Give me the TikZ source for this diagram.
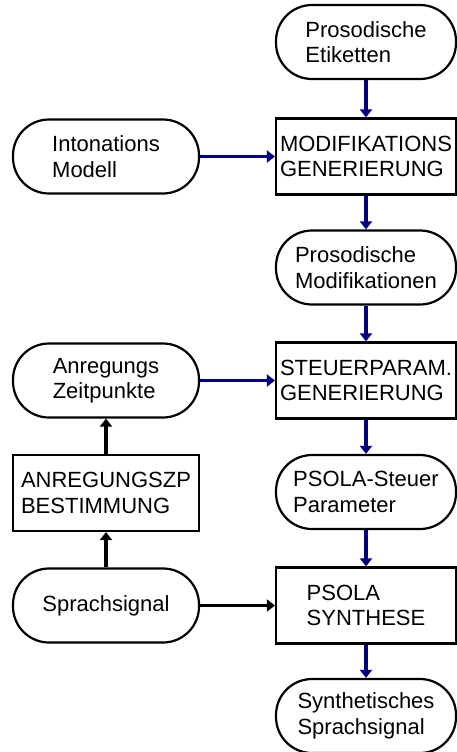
\documentclass[tikz,border=0pt]{standalone}
\usepackage{fontspec}
\setmainfont{Liberation Sans}
\usetikzlibrary{arrows.meta}

\definecolor{flowblue}{RGB}{0,0,128}

\begin{document}
\begin{tikzpicture}[x=1pt,y=1pt,>={Triangle[length=8pt,width=12pt]}]

% ----------------------------
% Styles
% ----------------------------
\tikzset{
	base/.style={draw=black,line width=2.2pt,fill=white,inner sep=0pt,align=left,
		font=\fontsize{22}{25.5}\selectfont},
	pill/.style={base,rounded corners=36pt,minimum height=74pt},
	procbox/.style={base,minimum height=76pt},
	rcol/.style={minimum width=180pt},
	lcol/.style={minimum width=186pt},
	bluearr/.style={->,line width=3.5pt,draw=flowblue,fill=flowblue},
	blackarr/.style={->,line width=3.5pt,draw=black}
}

\useasboundingbox (0,0) rectangle (457,-752);

% ============================================================
% RIGHT: main chain
% ============================================================
\node[pill,rcol]    (etik)    at (366,-42)    {Prosodische\\Etiketten};
\node[procbox,rcol] (modgen)  at (366,-156.5) {MODIFIKATIONS\\GENERIERUNG};
\node[pill,rcol]    (prosmod) at (366,-267.5) {Prosodische\\Modifikationen};
\node[procbox,rcol] (stgen)   at (366,-380.5) {STEUERPARAM.\\GENERIERUNG};
\node[pill,rcol]    (psteuer) at (366,-492)   {PSOLA-Steuer\\Parameter};
\node[procbox,rcol] (psyn)    at (366,-605.5) {PSOLA\\SYNTHESE};
\node[pill,rcol]    (synth)   at (366,-716)   {Synthetisches\\Sprachsignal};

% ============================================================
% LEFT: inputs
% ============================================================
\node[pill,lcol]    (inton)   at (106,-156.5) {Intonations\\Modell};
\node[pill,lcol]    (anzp)    at (106,-380.5) {Anregungs\\Zeitpunkte};
\node[procbox,lcol] (anbest)  at (106,-493)   {ANREGUNGSZP\\BESTIMMUNG};
\node[pill,lcol]    (sprach)  at (106,-605.5) {Sprachsignal};

% Arrows down the right column
\draw[bluearr] (etik)    -- (modgen);
\draw[bluearr] (modgen)  -- (prosmod);
\draw[bluearr] (prosmod) -- (stgen);
\draw[bluearr] (stgen)   -- (psteuer);
\draw[bluearr] (psteuer) -- (psyn);
\draw[bluearr] (psyn)    -- (synth);

% Arrows from the left column
\draw[bluearr]  (inton)  -- (modgen);
\draw[bluearr]  (anzp)   -- (stgen);
\draw[blackarr] (sprach) -- (psyn);
\draw[blackarr] (sprach) -- (anbest);
\draw[blackarr] (anbest) -- (anzp);
\end{tikzpicture}
\end{document}
